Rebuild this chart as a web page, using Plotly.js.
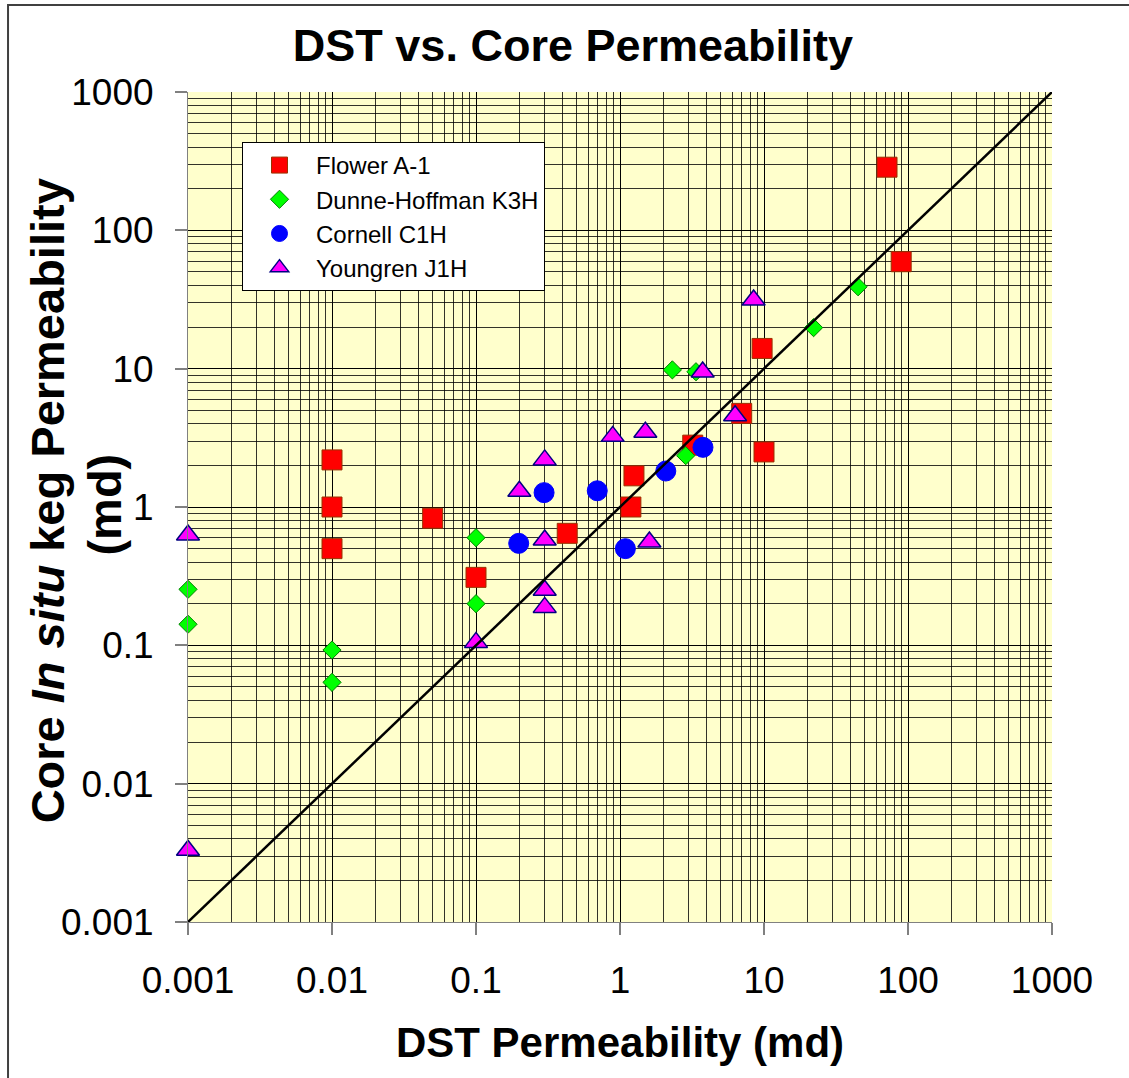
<!DOCTYPE html>
<html>
<head>
<meta charset="utf-8">
<script src="https://cdn.plot.ly/plotly-3.0.1.min.js"></script>
<style>
  html, body { margin: 0; padding: 0; background: #ffffff; }
  #chart { width: 1129px; height: 1078px; }
</style>
</head>
<body>
<div id="chart"></div>
<script>
// DST permeability (x) vs. core in-situ keg permeability (y), both in md
const flowerDst  = [0.01, 0.01, 0.01, 0.05, 0.1, 0.43, 1.19, 1.25, 3.2, 7.0, 9.7, 10, 71.5, 89.7];
const flowerCore = [2.19, 1.0, 0.50, 0.83, 0.31, 0.645, 1.0, 1.68, 2.8, 4.75, 14.0, 2.5, 286, 59.3];

const dunneDst  = [0.001, 0.001, 0.01, 0.01, 0.1, 0.1, 2.31, 3.37, 2.86, 22.1, 45];
const dunneCore = [0.254, 0.142, 0.0925, 0.054, 0.60, 0.20, 9.8, 9.5, 2.35, 19.8, 39.1];

const cornellDst  = [0.198, 0.297, 0.695, 1.09, 2.08, 3.77];
const cornellCore = [0.546, 1.27, 1.31, 0.50, 1.82, 2.7];

const youngrenDst  = [0.001, 0.001, 0.1, 0.2, 0.3, 0.3, 0.3, 0.3, 0.89, 1.5, 1.6, 3.75, 6.3, 8.47];
const youngrenCore = [0.627, 0.0033, 0.105, 1.30, 2.19, 0.577, 0.25, 0.188, 3.24, 3.47, 0.558, 9.46, 4.57, 31.4];

// 1:1 reference line
const unityX = [0.001, 1000];
const unityY = [0.001, 1000];

const tickVals = [0.001, 0.01, 0.1, 1, 10, 100, 1000];
const tickText = ['0.001', '0.01', '0.1', '1', '10', '100', '1000'];

// y-axis title, drawn as two rotated lines
const yTitleLines = ['<b>Core <i>In situ</i> keg Permeability</b>', '<b>(md)</b>'];

const font = 'Arial, "Liberation Sans", sans-serif';

const traces = [
  {
    name: 'Flower A-1', x: flowerDst, y: flowerCore, type: 'scatter', mode: 'markers', cliponaxis: false,
    marker: { symbol: 'square', size: 20, color: '#FF0000', line: { color: '#993300', width: 1 } }
  },
  {
    name: 'Dunne-Hoffman K3H', x: dunneDst, y: dunneCore, type: 'scatter', mode: 'markers', cliponaxis: false,
    marker: { symbol: 'diamond', size: 14, color: '#00FF00', line: { color: '#008000', width: 1 } }
  },
  {
    name: 'Cornell C1H', x: cornellDst, y: cornellCore, type: 'scatter', mode: 'markers', cliponaxis: false,
    marker: { symbol: 'circle', size: 20, color: '#0000FF', line: { color: '#0000FF', width: 1 } }
  },
  {
    name: 'Youngren J1H', x: youngrenDst, y: youngrenCore, type: 'scatter', mode: 'markers', cliponaxis: false,
    marker: { symbol: 'triangle-up', size: 20, color: '#FF00FF', line: { color: '#000080', width: 1.5 } }
  },
  {
    name: '1:1', x: unityX, y: unityY, type: 'scatter', mode: 'lines', cliponaxis: true,
    line: { color: '#000000', width: 2.5 }, showlegend: false, hoverinfo: 'skip'
  }
];

const axisCommon = {
  type: 'log',
  tickmode: 'array',
  tickvals: tickVals,
  ticktext: tickText,
  showgrid: true,
  gridcolor: '#000000',
  gridwidth: 1,
  minor: { dtick: 'D1', showgrid: true, gridcolor: 'rgba(0,0,0,0.8)', gridwidth: 1, ticks: '' },
  ticks: 'outside',
  ticklen: 12,
  tickwidth: 2,
  tickcolor: '#808080',
  tickfont: { family: font, size: 37, color: '#000000' },
  showline: true,
  linecolor: '#808080',
  linewidth: 1,
  zeroline: false,
  mirror: false,
  automargin: false
};

const titleFont = { family: font, size: 47, color: '#000000' };

const layout = {
  width: 1129,
  height: 1078,
  margin: { l: 188, r: 77, t: 92, b: 156 },
  paper_bgcolor: '#FFFFFF',
  plot_bgcolor: '#FFFFCC',
  showlegend: true,
  title: {
    text: '<b>DST vs. Core Permeability</b>',
    font: { family: font, size: 45, color: '#000000' },
    xref: 'container', x: 0.5075, xanchor: 'center',
    yref: 'container', y: 0.958, yanchor: 'middle'
  },
  xaxis: Object.assign({}, axisCommon, {
    range: [-3, 3],
    ticklabelstandoff: 14,
    title: { text: '<b>DST Permeability (md)</b>', font: { family: font, size: 42, color: '#000000' }, standoff: 27 }
  }),
  yaxis: Object.assign({}, axisCommon, {
    range: [-3, 3],
    ticklabelstandoff: 14
  }),
  annotations: [
    {
      text: yTitleLines[0], xref: 'paper', yref: 'paper', x: -0.1632, y: 0.508,
      xanchor: 'center', yanchor: 'middle', textangle: -90, showarrow: false, font: titleFont
    },
    {
      text: yTitleLines[1], xref: 'paper', yref: 'paper', x: -0.0972, y: 0.503,
      xanchor: 'center', yanchor: 'middle', textangle: -90, showarrow: false, font: titleFont
    }
  ],
  legend: {
    x: 0.0625, y: 0.9398, xanchor: 'left', yanchor: 'top',
    bgcolor: '#FFFFFF', bordercolor: '#000000', borderwidth: 1,
    font: { family: font, size: 24, color: '#000000' },
    itemwidth: 63,
    tracegroupgap: 0
  },
  shapes: [
    {
      type: 'rect', xref: 'paper', yref: 'paper',
      x0: -0.2083, x1: 1.2, y0: -0.25, y1: 1.1048,
      line: { color: '#404040', width: 2 }, fillcolor: 'rgba(0,0,0,0)', layer: 'below'
    }
  ]
};

Plotly.newPlot('chart', traces, layout, { displayModeBar: false, staticPlot: true });
</script>
</body>
</html>
